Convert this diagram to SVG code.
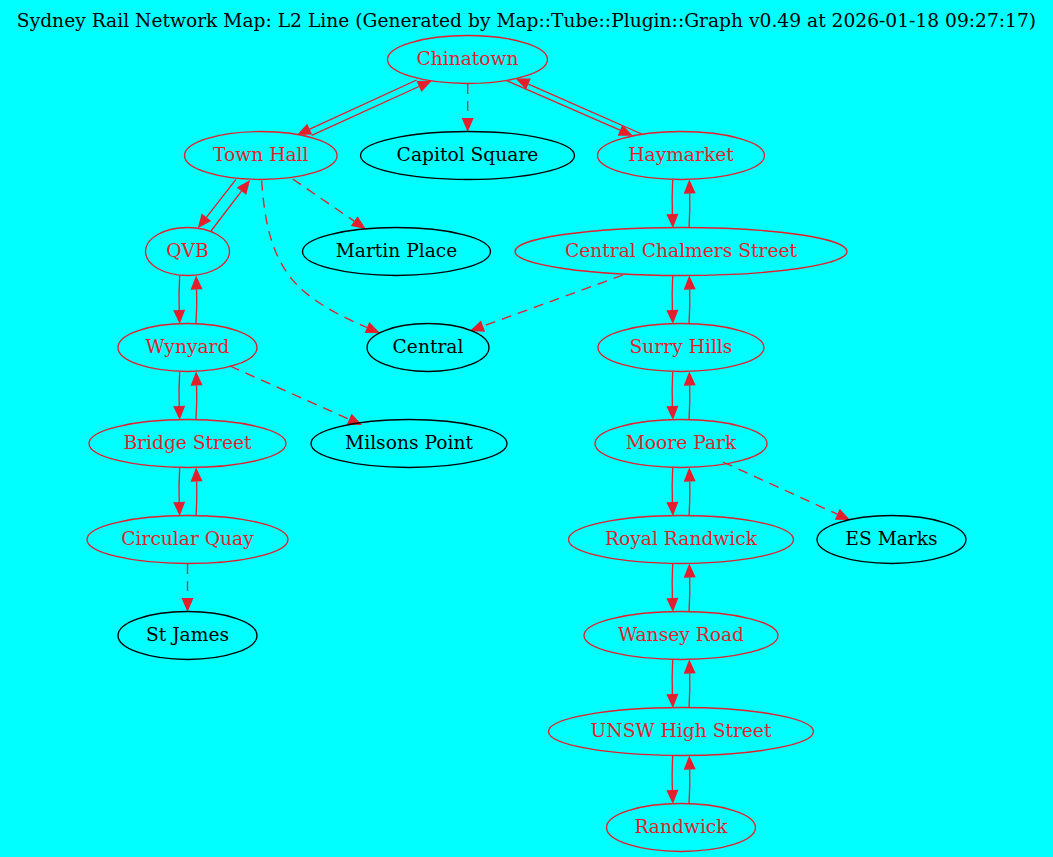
<svg xmlns="http://www.w3.org/2000/svg" width="1053" height="857" viewBox="0 0 1053 857">
<style>
text{font-family:"DejaVu Serif",serif;font-size:18.67px;text-anchor:middle}
.s ellipse{fill:none;stroke:#e41e2b;stroke-width:1.33}
.s text{fill:#e41e2b}
.o ellipse{fill:none;stroke:#000;stroke-width:1.33}
.o text{fill:#000}
#connectors path{fill:none;stroke:#e41e2b;stroke-width:1.33;marker-end:url(#a)}
#connectors path.d{stroke-dasharray:10 7}
</style>
<defs><marker id="a" markerUnits="userSpaceOnUse" markerWidth="16" markerHeight="14" refX="0" refY="6" orient="auto" overflow="visible"><path d="M0,0L14,6L0,12z" fill="#e41e2b"/></marker></defs>
<rect width="1053" height="857" fill="#0ff"/>
<text id="title" x="526.5" y="27">Sydney Rail Network Map: L2 Line (Generated by Map::Tube::Plugin::Graph v0.49 at 2026-01-18 09:27:17)</text>
<g id="connectors">
<path d="M416.7,80L309.7,129.1"/>
<path d="M311.7,135.3L419,86.5"/>
<path d="M506.7,80.7L620,130.2"/>
<path d="M641.7,134L528.4,84.1"/>
<path class="d" d="M467.7,84L467.7,118"/>
<path d="M672.7,180Q671.8,197 672.4,214"/>
<path d="M689,227.5Q690.2,210 689.7,193.5"/>
<path d="M236,179.3L206.4,217.3"/>
<path d="M211,231L241.5,191.1"/>
<path class="d" d="M261.7,180.7C264,212 268,246 288,274C304,297 335,314 367,327.5"/>
<path class="d" d="M292.7,179L354.2,221.1"/>
<path class="d" d="M623,275L483,326.2"/>
<path class="d" d="M230,366L349.2,419.3"/>
<path class="d" d="M723,462L837.3,514.2"/>
<path class="d" d="M187.5,564L187.5,598"/>
<path d="M179.7,276Q178.6,293 179.2,310"/>
<path d="M196,323.5Q197.2,306 196.6,289.5"/>
<path d="M179.7,372Q178.6,389 179.2,406"/>
<path d="M196,419.5Q197.2,402 196.6,385.5"/>
<path d="M179.7,468Q178.6,485 179.2,502"/>
<path d="M196,515.5Q197.2,498 196.6,481.5"/>
<path d="M672.7,276Q671.8,293 672.4,310"/>
<path d="M689,323.5Q690.2,306 689.7,289.5"/>
<path d="M672.7,372Q671.8,389 672.4,406"/>
<path d="M689,419.5Q690.2,402 689.7,385.5"/>
<path d="M672.7,468Q671.8,485 672.4,502"/>
<path d="M689,515.5Q690.2,498 689.7,481.5"/>
<path d="M672.7,564Q671.8,581 672.4,598"/>
<path d="M689,611.5Q690.2,594 689.7,577.5"/>
<path d="M672.7,660Q671.8,677 672.4,694"/>
<path d="M689,707.5Q690.2,690 689.7,673.5"/>
<path d="M672.7,756Q671.8,773 672.4,790"/>
<path d="M689,803.5Q690.2,786 689.7,769.5"/>
</g>
<g id="chinatown" class="s"><ellipse cx="467.5" cy="59.5" rx="80" ry="24"/><text x="467.5" y="65">Chinatown</text></g>
<g id="town-hall" class="s"><ellipse cx="260.8" cy="155.5" rx="76.3" ry="24"/><text x="260.8" y="161">Town Hall</text></g>
<g id="capitol-square" class="o"><ellipse cx="467.5" cy="155.5" rx="107" ry="24"/><text x="467.5" y="161">Capitol Square</text></g>
<g id="haymarket" class="s"><ellipse cx="681" cy="155.5" rx="83.5" ry="24"/><text x="681" y="161">Haymarket</text></g>
<g id="qvb" class="s"><ellipse cx="187.5" cy="251.5" rx="42" ry="24"/><text x="187.5" y="257">QVB</text></g>
<g id="martin-place" class="o"><ellipse cx="396.5" cy="251.5" rx="94" ry="24"/><text x="396.5" y="257">Martin Place</text></g>
<g id="central-chalmers-street" class="s"><ellipse cx="681" cy="251.5" rx="166" ry="24"/><text x="681" y="257">Central Chalmers Street</text></g>
<g id="wynyard" class="s"><ellipse cx="187.5" cy="347.5" rx="69.5" ry="24"/><text x="187.5" y="353">Wynyard</text></g>
<g id="central" class="o"><ellipse cx="428" cy="347.5" rx="61" ry="24"/><text x="428" y="353">Central</text></g>
<g id="surry-hills" class="s"><ellipse cx="681" cy="347.5" rx="83" ry="24"/><text x="681" y="353">Surry Hills</text></g>
<g id="bridge-street" class="s"><ellipse cx="187.5" cy="443.5" rx="98.5" ry="24"/><text x="187.5" y="449">Bridge Street</text></g>
<g id="milsons-point" class="o"><ellipse cx="409" cy="443.5" rx="98" ry="24"/><text x="409" y="449">Milsons Point</text></g>
<g id="moore-park" class="s"><ellipse cx="681" cy="443.5" rx="86" ry="24"/><text x="681" y="449">Moore Park</text></g>
<g id="circular-quay" class="s"><ellipse cx="187.5" cy="539.5" rx="100.5" ry="24"/><text x="187.5" y="545">Circular Quay</text></g>
<g id="royal-randwick" class="s"><ellipse cx="681" cy="539.5" rx="112.5" ry="24"/><text x="681" y="545">Royal Randwick</text></g>
<g id="es-marks" class="o"><ellipse cx="891.5" cy="539.5" rx="74.5" ry="24"/><text x="891.5" y="545">ES Marks</text></g>
<g id="st-james" class="o"><ellipse cx="187.5" cy="635.5" rx="69.5" ry="24"/><text x="187.5" y="641">St James</text></g>
<g id="wansey-road" class="s"><ellipse cx="681" cy="635.5" rx="97" ry="24"/><text x="681" y="641">Wansey Road</text></g>
<g id="unsw-high-street" class="s"><ellipse cx="681" cy="731.5" rx="132.5" ry="24"/><text x="681" y="737">UNSW High Street</text></g>
<g id="randwick" class="s"><ellipse cx="681" cy="827.5" rx="74.5" ry="24"/><text x="681" y="833">Randwick</text></g>
</svg>
